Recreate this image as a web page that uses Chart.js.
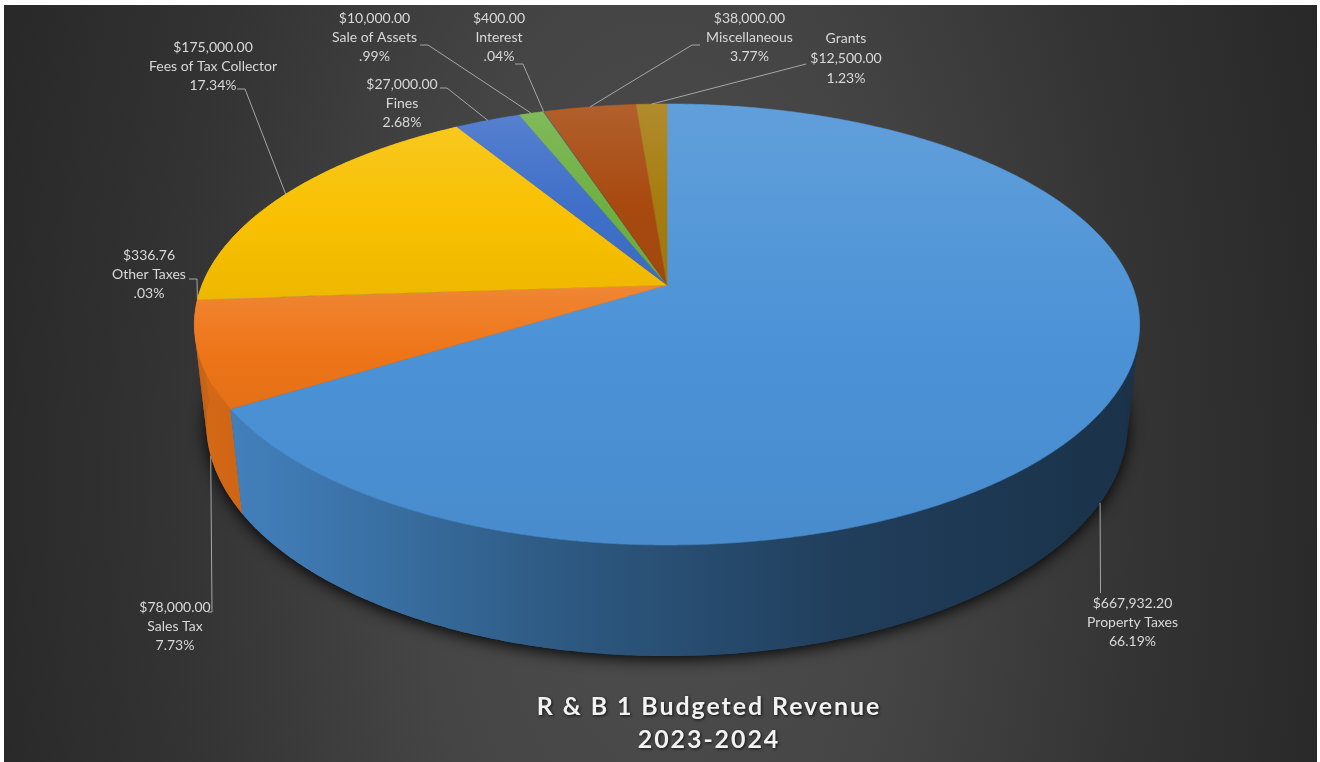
<!DOCTYPE html>
<html>
<head>
<meta charset="utf-8">
<title>R & B 1 Budgeted Revenue 2023-2024</title>
<style>
  html, body { margin: 0; padding: 0; background: #fff; }
  canvas { display: block; }
</style>
<script src="https://cdn.jsdelivr.net/npm/chart.js@4"></script>
</head>
<body>
<canvas id="revenue" width="1320" height="762"></canvas>
<script>
// Budget figures, clockwise from twelve o'clock
const categories = ['Property Taxes', 'Sales Tax', 'Other Taxes', 'Fees of Tax Collector', 'Fines', 'Sale of Assets', 'Interest', 'Miscellaneous', 'Grants'];
const amounts = [667932.20, 78000, 336.76, 175000, 27000, 10000, 400, 38000, 12500];
const percentLabels = ['66.19%', '7.73%', '.03%', '17.34%', '2.68%', '.99%', '.04%', '3.77%', '1.23%'];
const sliceColors = ['#4b92d6', '#ee7518', '#a5a5a5', '#f8c000', '#3f6fc8', '#6fb043', '#255e91', '#a84a10', '#a67c10'];
const titleLines = ['R & B 1 Budgeted Revenue', '2023-2024'];

// Label placement: text centre, first line y, the elbow of the leader, and which rim it lands on
const labelLayout = [
  { x: 1132.5, y: 603, elbow: [[1100.5, 593]], rim: 'base' },
  { x: 175, y: 607, elbow: [[208, 612], [212, 612]], rim: 'base' },
  { x: 149, y: 255, elbow: [[189, 279], [197, 279]], rim: 'top' },
  { x: 213, y: 47, elbow: [[237, 89], [245, 89]], rim: 'top' },
  { x: 402, y: 84, elbow: [[440, 88], [447, 88]], rim: 'top' },
  { x: 374.5, y: 18, elbow: [[420, 45], [428, 45]], rim: 'top' },
  { x: 499, y: 18, elbow: [[515, 64], [523, 64]], rim: 'top' },
  { x: 749.5, y: 18, elbow: [[700, 45], [692, 45]], rim: 'top' },
  { x: 846, y: 38, elbow: [[806, 64]], rim: 'top', nameFirst: true }
];

// Perspective of the disc: homogeneous (A*u, B*v + C, 1 - T*v), extruded by (0, E, K) for the base
const CX = 667, A = 465, B = 162.4, C = 285, T = 0.179, E = 107.6, K = 0.025;
const project = (angle, rim) => {
  const u = Math.cos(angle), v = Math.sin(angle);
  const base = rim === 'base';
  const w = 1 - T * v + (base ? K : 0);
  return [CX + A * u / w, (B * v + C + (base ? E : 0)) / w];
};
const arcPoints = (from, to, rim) => {
  const n = Math.max(2, Math.ceil(Math.abs(to - from) / 0.008));
  const pts = [];
  for (let i = 0; i <= n; i++) pts.push(project(from + (to - from) * i / n, rim));
  return pts;
};
const tracePath = (ctx, pts) => {
  ctx.beginPath();
  pts.forEach((p, i) => i ? ctx.lineTo(p[0], p[1]) : ctx.moveTo(p[0], p[1]));
  ctx.closePath();
};
const shade = (hex, f) => {
  const n = parseInt(hex.slice(1), 16);
  const ch = s => {
    const c = (n >> s) & 255;
    return Math.round(f <= 1 ? c * f : c + (255 - c) * (f - 1));
  };
  return `rgb(${ch(16)},${ch(8)},${ch(0)})`;
};
const money = v => '$' + v.toLocaleString('en-US', { minimumFractionDigits: 2, maximumFractionDigits: 2 });

const panelBackdrop = {
  id: 'panelBackdrop',
  beforeDraw(chart) {
    const ctx = chart.ctx;
    ctx.save();
    ctx.beginPath();
    ctx.rect(4, 5, 1313, 757);
    ctx.clip();
    ctx.translate(660, 480);
    ctx.scale(1, 2);
    const g = ctx.createRadialGradient(0, 0, 0, 0, 0, 700);
    g.addColorStop(0, '#4e4e4e');
    g.addColorStop(0.35, '#454545');
    g.addColorStop(0.7, '#333333');
    g.addColorStop(1, '#282828');
    ctx.fillStyle = g;
    ctx.fillRect(-700, -300, 1400, 600);
    ctx.restore();
    // The title box is painted next and picks up this text styling
    ctx.letterSpacing = '1.9px';
    ctx.shadowColor = 'rgba(0,0,0,0.75)';
    ctx.shadowBlur = 3;
    ctx.shadowOffsetX = 1;
    ctx.shadowOffsetY = 1;
  }
};

const disc3d = {
  id: 'disc3d',
  beforeDatasetsDraw(chart) {
    const ctx = chart.ctx;
    ctx.letterSpacing = '0px';
    ctx.shadowColor = 'transparent';
    ctx.shadowBlur = 0;
    ctx.shadowOffsetX = 0;
    ctx.shadowOffsetY = 0;

    const arcs = chart.getDatasetMeta(0).data;
    ctx.save();

    // Drop shadow under the base
    ctx.save();
    ctx.shadowColor = 'rgba(0,0,0,0.95)';
    ctx.shadowBlur = 16;
    ctx.shadowOffsetY = 3;
    ctx.fillStyle = '#111';
    tracePath(ctx, arcPoints(0, Math.PI * 2, 'base'));
    ctx.fill();
    ctx.restore();

    // Side walls, far slices first so the near ones cover them.
    // The whole strip goes down first; the ruled quads then add the silhouette bulge.
    for (let i = arcs.length - 1; i >= 0; i--) {
      const arc = arcs[i];
      const color = arc.options.backgroundColor;
      const upper = arcPoints(arc.startAngle, arc.endAngle, 'top');
      const lower = arcPoints(arc.startAngle, arc.endAngle, 'base');
      const g = ctx.createLinearGradient(195, 0, 1140, 0);
      g.addColorStop(0, shade(color, 0.9));
      g.addColorStop(0.15, shade(color, 0.8));
      g.addColorStop(0.4, shade(color, 0.6));
      g.addColorStop(0.7, shade(color, 0.42));
      g.addColorStop(1, shade(color, 0.34));
      ctx.fillStyle = g;
      tracePath(ctx, upper.concat(lower.slice().reverse()));
      ctx.fill();
      for (let k = 0; k + 1 < upper.length; k++) {
        tracePath(ctx, [upper[k], upper[k + 1], lower[k + 1], lower[k]]);
        ctx.fill();
      }
    }

    // Top face of each slice; hairline slices stay unstroked so they do not read wider than they are
    arcs.forEach(arc => {
      const color = arc.options.backgroundColor;
      const pts = arcPoints(arc.startAngle, arc.endAngle, 'top');
      pts.push([CX, C]);
      const ys = pts.map(p => p[1]);
      const g = ctx.createLinearGradient(0, Math.min(...ys), 0, Math.max(...ys));
      g.addColorStop(0, shade(color, 1.12));
      g.addColorStop(0.55, shade(color, 1.0));
      g.addColorStop(1, shade(color, 0.96));
      ctx.fillStyle = g;
      tracePath(ctx, pts);
      ctx.fill();
      if (arc.endAngle - arc.startAngle > 0.02) {
        ctx.strokeStyle = g;
        ctx.lineWidth = 0.6;
        ctx.stroke();
      }
    });
    ctx.restore();
    return false;
  },
  afterDraw(chart) {
    const ctx = chart.ctx;
    const arcs = chart.getDatasetMeta(0).data;
    ctx.save();
    ctx.font = '14px Lato, "Open Sans", sans-serif';
    ctx.textAlign = 'center';
    ctx.textBaseline = 'middle';
    labelLayout.forEach((slot, i) => {
      const arc = arcs[i];
      const end = project((arc.startAngle + arc.endAngle) / 2, slot.rim);
      ctx.strokeStyle = '#a6a6a6';
      ctx.lineWidth = 1;
      ctx.beginPath();
      slot.elbow.forEach((p, k) => k ? ctx.lineTo(p[0], p[1]) : ctx.moveTo(p[0], p[1]));
      ctx.lineTo(end[0], end[1]);
      ctx.stroke();

      const lines = slot.nameFirst
        ? [categories[i], money(amounts[i]), percentLabels[i]]
        : [money(amounts[i]), categories[i], percentLabels[i]];
      ctx.fillStyle = '#d9d9d9';
      lines.forEach((t, k) => ctx.fillText(t, slot.x, slot.y + k * (slot.nameFirst ? 20 : 19.2)));
    });
    ctx.restore();
  }
};

new Chart(document.getElementById('revenue'), {
  type: 'pie',
  data: {
    labels: categories,
    datasets: [{ data: amounts, backgroundColor: sliceColors, borderWidth: 0 }]
  },
  options: {
    responsive: false,
    animation: false,
    events: [],
    layout: { padding: { left: 98, right: 0, top: 0, bottom: 6 } },
    plugins: {
      legend: { display: false },
      tooltip: { enabled: false },
      title: {
        display: true,
        position: 'bottom',
        text: titleLines,
        color: '#f2f2f2',
        padding: 0,
        font: { family: 'Lato, "Open Sans", sans-serif', size: 25, weight: 'bold', lineHeight: 1.32 }
      }
    }
  },
  plugins: [panelBackdrop, disc3d]
});
</script>
</body>
</html>
